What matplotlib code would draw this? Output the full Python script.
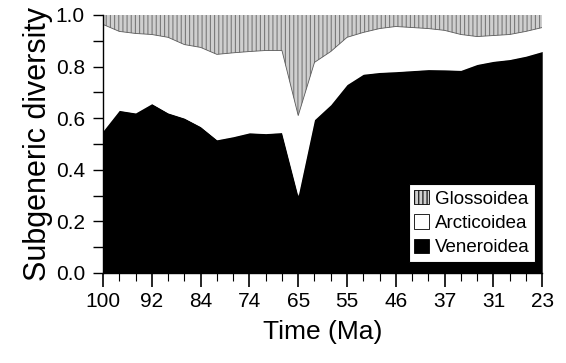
import numpy as np
import matplotlib.pyplot as plt

plt.rcParams['font.family'] = ['Liberation Sans', 'DejaVu Sans']

# share of subgenera per time bin (28 bins, 100 Ma -> 23 Ma)
veneroidea = [0.55, 0.63, 0.62, 0.656, 0.62, 0.60, 0.567, 0.516, 0.528, 0.543,
              0.54, 0.544, 0.30, 0.594, 0.652, 0.73, 0.77, 0.777, 0.78, 0.784,
              0.788, 0.787, 0.785, 0.808, 0.82, 0.827, 0.84, 0.858]
# top of Arcticoidea band (Veneroidea + Arcticoidea)
arct_top = [0.963, 0.936, 0.928, 0.924, 0.913, 0.885, 0.874, 0.847, 0.853, 0.858,
            0.862, 0.862, 0.61, 0.816, 0.858, 0.913, 0.932, 0.947, 0.955, 0.951,
            0.947, 0.94, 0.924, 0.916, 0.92, 0.924, 0.936, 0.951]
arcticoidea = [t - v for t, v in zip(arct_top, veneroidea)]
glossoidea = [1.0 - t for t in arct_top]

tick_labels = ['100', '92', '84', '74', '65', '55', '46', '37', '31', '23']

x = np.arange(len(veneroidea))
v = np.array(veneroidea)
a = v + np.array(arcticoidea)
g = a + np.array(glossoidea)

fig = plt.figure(figsize=(5.66, 3.63), dpi=100)
ax = fig.add_axes([0.182, 0.248, 0.776, 0.711])

plt.rcParams['hatch.color'] = '#7a7a7a'
plt.rcParams['hatch.linewidth'] = 0.8
ax.fill_between(x, 0, v, color='black', lw=0, label='Veneroidea')
ax.fill_between(x, v, a, facecolor='white', edgecolor='none', lw=0, label='Arcticoidea')
ax.fill_between(x, a, g, facecolor='#cfcfcf', edgecolor='#7a7a7a', hatch='||||',
                lw=0, label='Glossoidea')
ax.plot(x, a, color='#5a5a5a', lw=0.6)

ax.set_xlim(0, len(x) - 1)
ax.set_ylim(0, 1.0)
ax.set_xticks(x[::3])
ax.set_xticklabels(tick_labels)
ax.set_xticks(x, minor=True)
ax.set_yticks([0.0, 0.2, 0.4, 0.6, 0.8, 1.0])
ax.set_yticks(np.arange(0.1, 1.0, 0.2), minor=True)
ax.yaxis.set_major_formatter(plt.FormatStrFormatter('%.1f'))

for s in ['top', 'right']:
    ax.spines[s].set_visible(False)
ax.spines['left'].set_linewidth(1.0)
ax.spines['bottom'].set_linewidth(1.0)
ax.tick_params(axis='x', which='major', length=10, width=1.2, labelsize=15, pad=4)
ax.tick_params(axis='x', which='minor', length=6, width=0.8)
ax.tick_params(axis='y', which='major', length=7, width=1.0, labelsize=15, pad=6)
ax.tick_params(axis='y', which='minor', length=7, width=1.0)

ax.set_xlabel('Time (Ma)', fontsize=19, labelpad=6)
ax.set_ylabel('Subgeneric diversity', fontsize=22, labelpad=2)

handles, labels = ax.get_legend_handles_labels()
leg = ax.legend(handles[::-1], labels[::-1], loc='lower right',
                bbox_to_anchor=(0.984, 0.043), fontsize=13.5, frameon=True,
                fancybox=False, edgecolor='black', framealpha=1,
                handlelength=0.8, handleheight=0.8, handletextpad=0.3,
                labelspacing=0.35, borderpad=0.3, borderaxespad=0)
leg.get_frame().set_linewidth(0.8)
for h in leg.legend_handles:
    h.set_edgecolor('black')
    h.set_linewidth(0.6)

fig.savefig('out.png', dpi=100)
